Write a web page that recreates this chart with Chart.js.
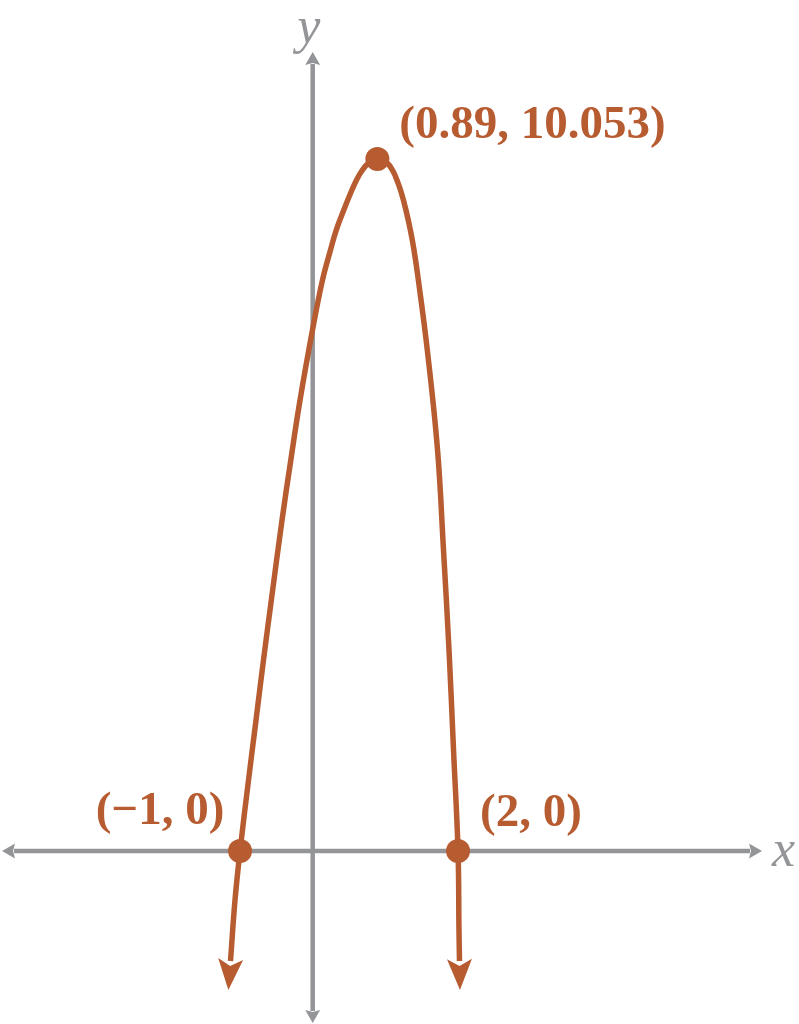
<!DOCTYPE html>
<html><head><meta charset="utf-8">
<style>html,body{margin:0;padding:0;background:#fff;overflow:hidden}#wrap{width:799px;height:1024px;position:relative}</style>
<script src="https://cdn.jsdelivr.net/npm/chart.js@4.4.1/dist/chart.umd.min.js"></script>
</head><body><div id="wrap"><canvas id="c" width="799" height="1024"></canvas></div>
<script>
// ---- data ----
const curveX = [-1.131, -1.069, -1.0, -0.883, -0.780, -0.677, -0.569, -0.422, -0.301, -0.174, 0.005, 0.135, 0.245, 0.324, 0.428, 0.522, 0.603, 0.675, 0.770, 0.89, 1.024, 1.103, 1.159, 1.221, 1.283, 1.344, 1.394, 1.454, 1.577, 1.718, 1.800, 1.876, 1.938, 2.0, 2.013, 2.020];
const curveY = [-1.598, -0.712, 0.0, 1.032, 1.903, 2.775, 3.647, 4.809, 5.681, 6.552, 7.613, 8.296, 8.732, 9.022, 9.313, 9.560, 9.749, 9.880, 9.996, 10.053, 9.996, 9.880, 9.749, 9.560, 9.313, 9.022, 8.732, 8.296, 7.279, 5.826, 4.373, 2.920, 1.467, 0.0, -1.148, -1.598];
const pointX = [-1, 0.89, 2];
const pointY = [0, 10.053, 0];
const pointLabels = ['(\u22121, 0)', '(0.89, 10.053)', '(2, 0)'];
const axisTitles = ['x', 'y'];

// ---- styles ----
const ORANGE = '#b75b31';
const GRAY = '#939598';

const curveData = curveX.map((x, i) => ({x, y: curveY[i]}));
const pointData = pointX.map((x, i) => ({x, y: pointY[i]}));

const decorPlugin = {
  id: 'decor',
  beforeDatasetsDraw(chart) {
    const {ctx} = chart;
    const xs = chart.scales.x, ys = chart.scales.y;
    const o = chart.options.plugins.decor;
    const x0 = xs.getPixelForValue(0), y0 = ys.getPixelForValue(0);
    const xl = xs.getPixelForValue(o.xAxisRange[0]), xr = xs.getPixelForValue(o.xAxisRange[1]);
    const yt = ys.getPixelForValue(o.yAxisRange[1]), yb = ys.getPixelForValue(o.yAxisRange[0]);
    ctx.save();
    ctx.strokeStyle = GRAY; ctx.fillStyle = GRAY; ctx.lineWidth = 4.5;
    const L = 13, W = 7.5;
    ctx.beginPath();
    ctx.moveTo(xl + L - 1, y0); ctx.lineTo(xr - L + 1, y0);
    ctx.moveTo(x0, yt + L - 1); ctx.lineTo(x0, yb - L + 1);
    ctx.stroke();
    const tri = (tx, ty, dx, dy) => {
      const bx = tx - dx * L, by = ty - dy * L;
      ctx.beginPath();
      ctx.moveTo(tx, ty);
      ctx.lineTo(bx - dy * W, by + dx * W);
      ctx.lineTo(bx + dx * 2, by + dy * 2);
      ctx.lineTo(bx + dy * W, by - dx * W);
      ctx.closePath(); ctx.fill();
    };
    tri(xl, y0, -1, 0); tri(xr, y0, 1, 0);
    tri(x0, yt, 0, -1); tri(x0, yb, 0, 1);
    ctx.font = 'italic 52px "Liberation Serif", "DejaVu Serif", serif';
    ctx.textBaseline = 'middle';
    ctx.textAlign = 'left';
    ctx.fillText(axisTitles[0], xr + 10, y0 + 1);
    ctx.textAlign = 'center';
    ctx.fillText(axisTitles[1], x0 - 4, yt - 23);
    ctx.restore();
  },
  afterDatasetsDraw(chart) {
    const {ctx} = chart;
    const meta = chart.getDatasetMeta(0);
    const pts = meta.data;
    ctx.save();
    ctx.fillStyle = ORANGE;
    const AL = 29, AW = 12.5;
    const head = (p, q) => {
      let dx = p.x - q.x, dy = p.y - q.y;
      const n = Math.hypot(dx, dy); dx /= n; dy /= n;
      const tx = p.x + dx * AL, ty = p.y + dy * AL;
      ctx.beginPath();
      ctx.moveTo(tx, ty);
      ctx.lineTo(p.x - dy * AW - dx * 2, p.y + dx * AW - dy * 2);
      ctx.lineTo(p.x + dx * 5, p.y + dy * 5);
      ctx.lineTo(p.x + dy * AW - dx * 2, p.y - dx * AW - dy * 2);
      ctx.closePath(); ctx.fill();
    };
    head(pts[0], pts[1]);
    head(pts[pts.length - 1], pts[pts.length - 2]);
    // labels
    const o = chart.options.plugins.decor;
    const pm = chart.getDatasetMeta(1).data;
    ctx.font = 'bold 47px "Liberation Serif", "DejaVu Serif", serif';
    ctx.textBaseline = 'middle';
    pm.forEach((p, i) => {
      const off = o.labelOffsets[i];
      ctx.textAlign = off[2];
      ctx.fillText(pointLabels[i], p.x + off[0], p.y + off[1]);
    });
    ctx.restore();
  }
};

new Chart(document.getElementById('c'), {
  type: 'scatter',
  data: {
    datasets: [
      {
        data: curveData, showLine: true, borderColor: ORANGE, borderWidth: 5.5,
        pointRadius: 0, tension: 0.4, fill: false, order: 2, borderCapStyle: 'butt'
      },
      {
        data: pointData, showLine: false, pointRadius: 12, pointBackgroundColor: ORANGE,
        pointBorderWidth: 0, pointHoverRadius: 12, order: 1
      }
    ]
  },
  options: {
    responsive: false, animation: false, events: [],
    layout: {padding: 0, autoPadding: false},
    scales: {
      x: {type: 'linear', min: -4.303, max: 6.692, display: false},
      y: {type: 'linear', min: -2.513, max: 12.364, display: false}
    },
    plugins: {
      legend: {display: false}, tooltip: {enabled: false},
      decor: {
        xAxisRange: [-4.275, 6.183],
        yAxisRange: [-2.499, 11.608],
        labelOffsets: [[-80, -39, 'center'], [22, -33, 'left'], [22, -37, 'left']]
      }
    }
  },
  plugins: [decorPlugin]
});
</script></body></html>
